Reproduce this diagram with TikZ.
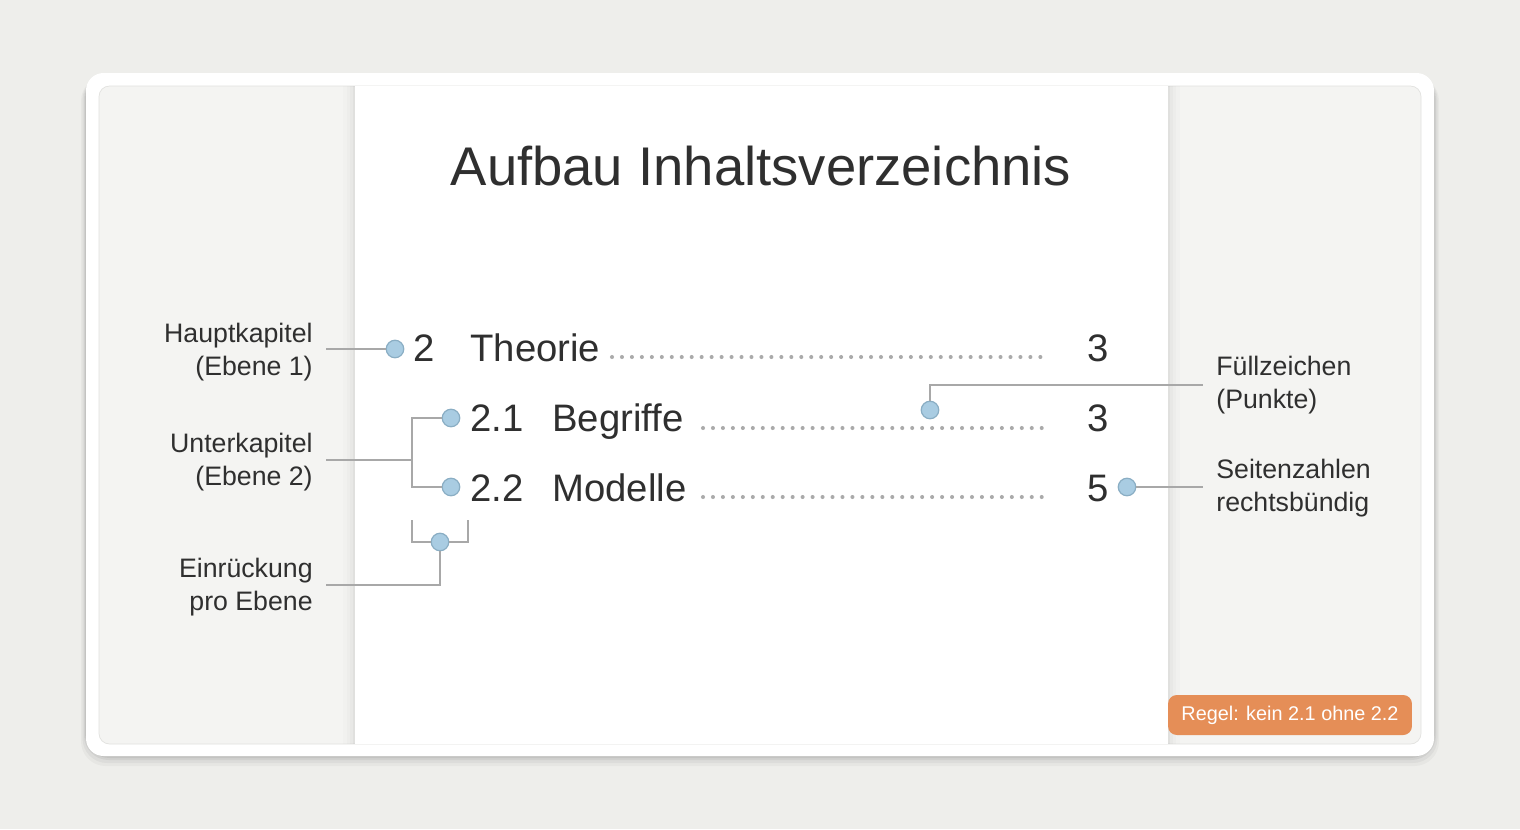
\documentclass[tikz,border=0pt]{standalone}
\usepackage{fontspec}
\setmainfont{Liberation Sans}
\definecolor{bgcol}{HTML}{EEEEEB}
\definecolor{panelcol}{HTML}{F4F4F2}
\definecolor{rimcol}{HTML}{E2E2DF}
\definecolor{inkcol}{HTML}{2F2F2F}
\definecolor{linecol}{HTML}{A8A8A8}
\definecolor{dotcol}{HTML}{AAAAAA}
\definecolor{pinfill}{HTML}{A9CCE2}
\definecolor{pinrim}{HTML}{8AAEC4}
\definecolor{badgecol}{HTML}{E58E57}
\begin{document}
\begin{tikzpicture}[
    x=0.02cm, y=-0.02cm,
    pin/.style={circle,draw=pinrim,fill=pinfill,line width=0.7pt,inner sep=0pt,minimum size=0.35cm},
    lead/.style={draw=linecol,line width=0.7pt},
    leader/.style={dotcol,line width=2.3pt,line cap=round,dash pattern=on 0pt off 5.67pt},
    entry/.style={inkcol,font=\fontsize{21.8}{24}\selectfont,inner sep=0pt},
    note/.style={inkcol,font=\fontsize{15.2}{18.7}\selectfont,inner sep=0pt}
    ]
    \useasboundingbox (0,0) rectangle (1520,829);
    \fill [bgcol] (0,0) rectangle (1520,829);

    % card and panel
    \foreach \s/\o in {10/0.03,7/0.04,4/0.05,2/0.06}
      \fill [black,opacity=\o,rounded corners=14] (86-\s/2,73+\s/3) rectangle (1434+\s/2,756+\s);
    \fill [white,rounded corners=10] (86,73) rectangle (1434,756);
    \draw [rimcol,fill=panelcol,rounded corners=6] (99,86) rectangle (1421,744);

    % page
    \foreach \s/\o in {12/0.01,8/0.015,5/0.02,2/0.03}
      \fill [black,opacity=\o] (355-\s,86) rectangle (1168+\s,744);
    \fill [white] (355,86) rectangle (1168,744);

    \node (title) at (761,166) [inkcol,font=\fontsize{31}{36}\selectfont] {Aufbau Inhaltsverzeichnis};

    % entries
    \node (n1) at (413,361) [entry,anchor=base west] {2};
    \node (t1) at (470,361) [entry,anchor=base west] {Theorie};
    \node (p1) at (1098,361) [entry,anchor=base] {3};
    \node (n2) at (470,431) [entry,anchor=base west] {2.1};
    \node (t2) at (552,431) [entry,anchor=base west] {Begriffe};
    \node (p2) at (1098,431) [entry,anchor=base] {3};
    \node (n3) at (470,501) [entry,anchor=base west] {2.2};
    \node (t3) at (552,501) [entry,anchor=base west] {Modelle};
    \node (p3) at (1098,501) [entry,anchor=base] {5};
    \draw [leader] (612,357) -- (1046,357);
    \draw [leader] (703,428) -- (1046,428);
    \draw [leader] (703,497) -- (1046,497);

    % notes
    \node (haupt) at (313,352) [note,anchor=east,align=right] {Hauptkapitel\\(Ebene 1)};
    \node (unter) at (313,462) [note,anchor=east,align=right] {Unterkapitel\\(Ebene 2)};
    \node (einr) at (313,587) [note,anchor=east,align=right] {Einrückung\\pro Ebene};
    \node (fuell) at (1216,385) [note,anchor=west,align=left] {Füllzeichen\\(Punkte)};
    \node (seiten) at (1216,488) [note,anchor=west,align=left] {Seitenzahlen\\rechtsbündig};

    % pins
    \node (b1) at (395,349) [pin] {};
    \node (b2) at (451,418) [pin] {};
    \node (b3) at (451,487) [pin] {};
    \node (b4) at (440,542) [pin] {};
    \node (b5) at (930,410) [pin] {};
    \node (b6) at (1127,487) [pin] {};

    \coordinate (c1) at (326,349);
    \coordinate (c2) at (326,460);
    \coordinate (c3) at (412,460);
    \coordinate (c4) at (326,585);
    \coordinate (c5) at (1203,385);
    \coordinate (c6) at (1203,487);
    \coordinate (e1) at (412,520);
    \coordinate (e2) at (468,520);

    \draw [lead] (c1) -- (b1);
    \draw [lead] (b2) -- (412,418) -- (412,487) -- (b3);
    \draw [lead] (c2) -- (c3);
    \draw [lead] (e1) |- (b4) -| (e2);
    \draw [lead] (b4) |- (c4);
    \draw [lead] (b5) |- (c5);
    \draw [lead] (b6) -- (c6);

    \node (regel) at (1290,715) [fill=badgecol,rounded corners=5pt,text=white,minimum width=4.88cm,minimum height=0.8cm,font=\fontsize{11.3}{13}\selectfont] {Regel: kein 2.1 ohne 2.2};
  \end{tikzpicture}
\end{document}
